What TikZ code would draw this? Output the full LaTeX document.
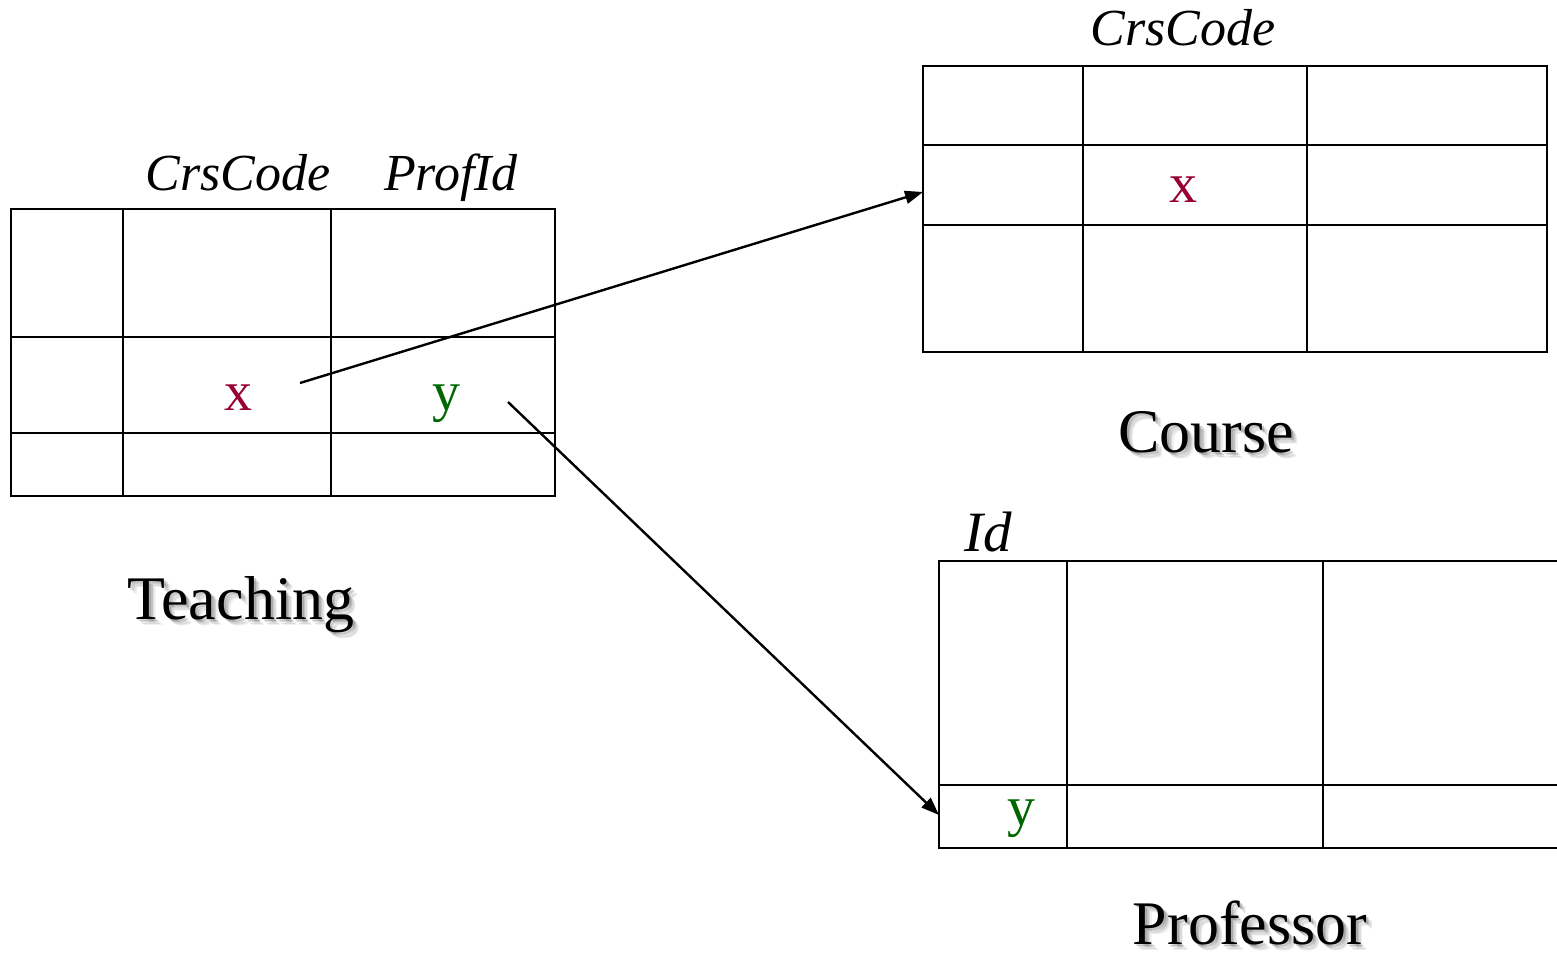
\documentclass[tikz,border=0pt]{standalone}
\usepackage{fontspec}
\setmainfont{Liberation Serif}
\usetikzlibrary{arrows.meta,calc}
\definecolor{valred}{RGB}{153,0,51}
\definecolor{valgreen}{RGB}{0,102,0}
\tikzset{
  gridline/.style={line width=2pt, line cap=rect},
  conn/.style={line width=2.4pt, -{Triangle[length=18pt,width=13pt]}},
  colhead/.style={font=\fontsize{52}{52}\selectfont\itshape, inner sep=0pt, anchor=base},
  bighead/.style={colhead, font=\fontsize{57}{57}\selectfont\itshape},
  val/.style={font=\fontsize{56}{56}\selectfont, inner sep=0pt, anchor=base},
  title/.style={font=\fontsize{62}{62}\selectfont, inner sep=0pt, anchor=base},
  titleshade/.style={title, text=black, opacity=#1},
}
% relation name with a soft drop shadow
\newcommand{\relname}[3]{%
  \foreach \d/\o in {2/0.14,3.5/0.12,5/0.09,6.5/0.06}
    \node[titleshade=\o] at ($(#2)+(\d,\d)$) {#3};
  \node[title] (#1) at (#2) {#3};
}
\begin{document}
\begin{tikzpicture}[x=1pt,y=-1pt]
\useasboundingbox (0,0) rectangle (1557,953);

% ---- Teaching ----
\draw[gridline] (11,209) rectangle (555,496);
\draw[gridline] (123,209) -- (123,496) (331,209) -- (331,496);
\draw[gridline] (11,337) -- (555,337) (11,433) -- (555,433);
\node[colhead] (tCrs) at (238,190) {CrsCode};
\node[colhead] (tProf) at (451,190) {ProfId};
\node[val, text=valred] (tx) at (238,410) {x};
\node[val, text=valgreen] (ty) at (446,410) {y};
\coordinate (txOut) at (300,383);
\coordinate (tyOut) at (508,402);
\coordinate (teachPos) at (241,619);
\relname{teach}{teachPos}{Teaching}

% ---- Course ----
\draw[gridline] (923,66) rectangle (1547,352);
\draw[gridline] (1083,66) -- (1083,352) (1307,66) -- (1307,352);
\draw[gridline] (923,145) -- (1547,145) (923,225) -- (1547,225);
\node[colhead] (cCrs) at (1183,45) {CrsCode};
\node[val, text=valred] (cx) at (1183,202) {x};
\coordinate (cxIn) at (923,192);
\coordinate (coursePos) at (1206,452);
\relname{course}{coursePos}{Course}

% ---- Professor ----
\draw[gridline] (1557,561) -- (939,561) -- (939,848) -- (1557,848);
\draw[gridline] (1067,561) -- (1067,848) (1323,561) -- (1323,848);
\draw[gridline] (939,785) -- (1557,785);
\node[bighead] (pId) at (988,551) {Id};
\node[val, text=valgreen] (py) at (1021,825) {y};
\coordinate (pyIn) at (939,815);
\coordinate (profPos) at (1250,944);
\relname{prof}{profPos}{Professor}

% ---- references ----
\draw[conn] (txOut) -- (cxIn);
\draw[conn] (tyOut) -- (pyIn);
\end{tikzpicture}
\end{document}
